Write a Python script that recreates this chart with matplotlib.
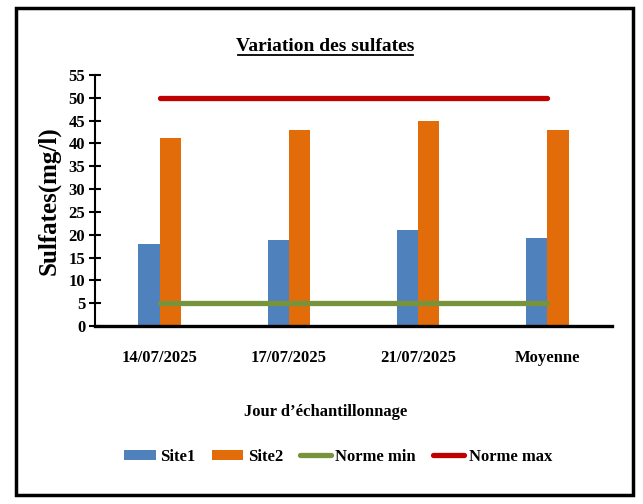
import matplotlib.pyplot as plt
import numpy as np
from matplotlib.patches import Rectangle
from matplotlib.lines import Line2D

categories = ["14/07/2025", "17/07/2025", "21/07/2025", "Moyenne"]
site1 = [18, 18.8, 21, 19.3]
site2 = [41.2, 43, 45, 43]
norme_min = [5, 5, 5, 5]
norme_max = [50, 50, 50, 50]

plt.rcParams['font.family'] = ['Liberation Serif', 'DejaVu Serif']
plt.rcParams['font.weight'] = 'bold'

c1 = '#4f81bd'
c2 = '#e36c0a'
cmin = '#77933c'
cmax = '#c00000'

fig = plt.figure(figsize=(6.43, 5.04), dpi=100)
W, H = 643, 504

# outer frame
fig.patches.append(Rectangle((16 / W, 1 - 495 / H), (633 - 16) / W, (495 - 8) / H,
                             transform=fig.transFigure, fill=False,
                             edgecolor='black', linewidth=2.5))

ax = fig.add_axes([95 / W, 1 - 326 / H, (612 - 95) / W, (326 - 75) / H])

x = np.arange(len(categories))
bw = 0.165
b1 = ax.bar(x - bw / 2, site1, width=bw, color=c1, label='Site1')
b2 = ax.bar(x + bw / 2, site2, width=bw, color=c2, label='Site2')
l1, = ax.plot(x, norme_min, color=cmin, linewidth=3.8, solid_capstyle='round', label='Norme min')
l2, = ax.plot(x, norme_max, color=cmax, linewidth=3.8, solid_capstyle='round', label='Norme max')

ax.set_xlim(-0.5, len(categories) - 0.5)
ax.set_ylim(0, 55)
ax.set_yticks(np.arange(0, 56, 5))
ax.set_xticks(x)
ax.set_xticklabels(categories, fontsize=12, fontweight='bold')
ax.tick_params(axis='x', length=0, pad=17)
ax.tick_params(axis='y', direction='inout', length=8, width=1.5, labelsize=12, pad=3)
for lbl in ax.get_yticklabels():
    lbl.set_fontweight('bold')

for s in ['top', 'right']:
    ax.spines[s].set_visible(False)
ax.spines['left'].set_linewidth(1.5)
ax.spines['bottom'].set_linewidth(2.4)

ax.set_ylabel('Sulfates(mg/l)', fontsize=18, fontweight='bold', labelpad=6)

fig.text(325 / W, 1 - 51 / H, 'Variation des sulfates', ha='center', va='baseline',
         fontsize=14, fontweight='bold')
# underline of the title
fig.add_artist(Line2D([238 / W, 413 / W], [1 - 55 / H, 1 - 55 / H],
                      transform=fig.transFigure, color='black', linewidth=1.3))

fig.text(326 / W, 1 - 412 / H, "Jour d\u2019échantillonnage", ha='center', va='center',
         fontsize=12, fontweight='bold')

leg = fig.legend(handles=[b1, b2, l1, l2], loc='center',
                 bbox_to_anchor=(338 / W, 1 - 457 / H), ncol=4,
                 frameon=False, handlelength=1.9, handleheight=0.6,
                 columnspacing=1.0, handletextpad=0.25,
                 prop={'weight': 'bold', 'size': 12})

fig.savefig('out.png', dpi=100)
